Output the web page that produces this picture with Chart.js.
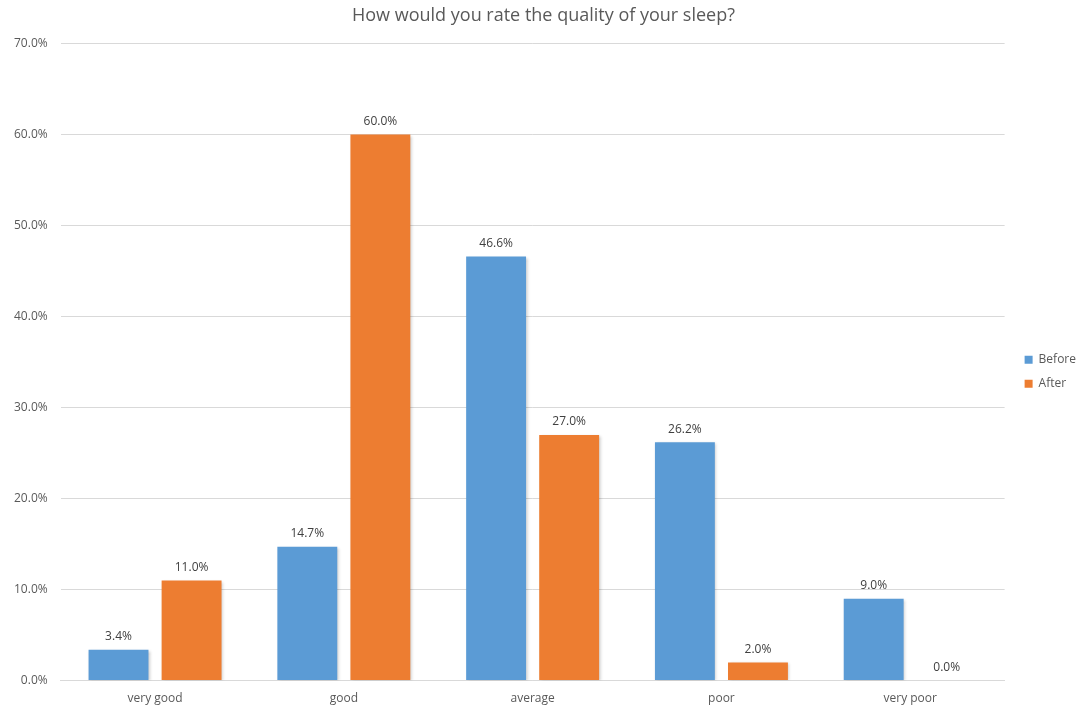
<!DOCTYPE html>
<html lang="en">
<head>
    <meta charset="UTF-8">
    <title>Sleep quality</title>
    <script src="https://cdn.jsdelivr.net/npm/chart.js"></script>
    <style>
        body { margin: 0; background: #fff; }
        #wrap { width: 1077px; height: 708px; }
    </style>
</head>
<body>
    <div id="wrap"><canvas id="myChart" width="1077" height="708"></canvas></div>
    <script>
        const categories = ['very good', 'good', 'average', 'poor', 'very poor'];
        const beforeValues = [3.4, 14.7, 46.6, 26.2, 9.0];
        const afterValues = [11.0, 60.0, 27.0, 2.0, 0.0];
        const yTicks = [0, 10, 20, 30, 40, 50, 60, 70];

        const textFont = "'Open Sans', 'Liberation Sans', sans-serif";

        // little shadow under the bars, like the spreadsheet export
        const barShadow = {
            id: 'barShadow',
            beforeDatasetsDraw(chart) {
                const ctx = chart.ctx;
                ctx.save();
                ctx.shadowColor = 'rgba(0,0,0,0.22)';
                ctx.shadowBlur = 3;
                ctx.shadowOffsetX = 1.5;
                ctx.shadowOffsetY = 1;
            },
            afterDatasetsDraw(chart) {
                chart.ctx.restore();
            }
        };

        // value labels above the bars
        const valueLabels = {
            id: 'valueLabels',
            afterDatasetsDraw(chart) {
                const ctx = chart.ctx;
                ctx.save();
                ctx.font = '12px ' + textFont;
                ctx.fillStyle = '#404040';
                ctx.textAlign = 'center';
                ctx.textBaseline = 'bottom';
                chart.data.datasets.forEach((ds, i) => {
                    chart.getDatasetMeta(i).data.forEach((bar, j) => {
                        ctx.fillText(ds.data[j].toFixed(1) + '%', bar.x, bar.y - 7);
                    });
                });
                ctx.restore();
            }
        };

        let ctx = document.getElementById('myChart').getContext('2d');
        let myChart = new Chart(ctx, {
            type: 'bar',
            data: {
                labels: categories,
                datasets: [{
                    label: 'Before',
                    data: beforeValues,
                    backgroundColor: '#5B9BD5',
                    borderWidth: 0
                }, {
                    label: 'After',
                    data: afterValues,
                    backgroundColor: '#ED7D31',
                    borderWidth: 0
                }]
            },
            plugins: [barShadow, valueLabels],
            options: {
                responsive: false,
                animation: false,
                layout: {
                    padding: { left: 1, right: -9, top: 4, bottom: -1 }
                },
                datasets: {
                    bar: { categoryPercentage: 0.774, barPercentage: 0.82 }
                },
                plugins: {
                    title: {
                        display: true,
                        text: 'How would you rate the quality of your sleep?',
                        color: '#595959',
                        font: { family: textFont, size: 18, weight: 'normal' },
                        padding: { top: 1, bottom: 17 }
                    },
                    legend: {
                        position: 'right',
                        // empty title only pushes the two items a bit lower
                        title: { display: true, text: ' ', padding: 8, font: { size: 12 } },
                        labels: {
                            boxWidth: 8,
                            boxHeight: 8,
                            padding: 12,
                            color: '#595959',
                            font: { family: textFont, size: 12 }
                        }
                    },
                    tooltip: { enabled: false }
                },
                scales: {
                    x: {
                        grid: { display: false },
                        border: { color: '#d9d9d9' },
                        ticks: {
                            color: '#595959',
                            font: { family: textFont, size: 12 },
                            padding: 3
                        }
                    },
                    y: {
                        min: 0,
                        max: 70,
                        afterBuildTicks: (axis) => {
                            axis.ticks = yTicks.map(v => ({ value: v }));
                        },
                        grid: { color: '#d9d9d9', drawTicks: false },
                        border: { display: false },
                        ticks: {
                            color: '#595959',
                            font: { family: textFont, size: 12 },
                            padding: 13,
                            callback: (v) => v.toFixed(1) + '%'
                        }
                    },
                    // empty axis on the right, just a gap before the legend
                    gap: {
                        type: 'linear',
                        position: 'right',
                        grid: { display: false, drawTicks: false },
                        border: { display: false },
                        ticks: { display: false },
                        afterFit: (axis) => { axis.width = 8; }
                    }
                }
            }
        });
    </script>
</body>
</html>
